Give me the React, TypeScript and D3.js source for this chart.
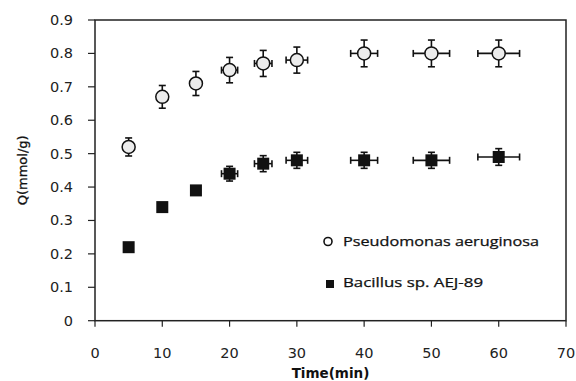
import React from "react";
import * as d3 from "d3";

const times = [5, 10, 15, 20, 25, 30, 40, 50, 60];
const pseudomonas = [0.52, 0.67, 0.71, 0.75, 0.77, 0.78, 0.8, 0.8, 0.8];
const pseudomonasYErr = [0.027, 0.034, 0.036, 0.038, 0.039, 0.039, 0.04, 0.04, 0.04];
const bacillus = [0.22, 0.34, 0.39, 0.44, 0.47, 0.48, 0.48, 0.48, 0.49];
const bacillusYErr = [0, 0.01, 0.012, 0.022, 0.024, 0.024, 0.024, 0.024, 0.025];
const timeErr = [0, 0, 0, 1.2, 1.3, 1.6, 2, 2.7, 3.1];
const xTicks = [0, 10, 20, 30, 40, 50, 60, 70];
const yTicks = [0, 0.1, 0.2, 0.3, 0.4, 0.5, 0.6, 0.7, 0.8, 0.9];
const seriesNames = ["Pseudomonas aeruginosa", "Bacillus sp. AEJ-89"];

const W = 576;
const H = 381;
const L = 95, R = 566, T = 20, B = 320.7;

export default function App() {
  const x = d3.scaleLinear().domain([0, 70]).range([L, R]);
  const y = d3.scaleLinear().domain([0, 0.9]).range([B, T]);
  const cap = 3.5;
  const ink = "#111";

  const errBars = (vals: number[], yerr: number[]) =>
    times.map((t, i) => {
      const cx = x(t), cy = y(vals[i]);
      const parts: JSX.Element[] = [];
      if (yerr[i] > 0) {
        const y1 = y(vals[i] + yerr[i]), y2 = y(vals[i] - yerr[i]);
        parts.push(<line key="v" x1={cx} x2={cx} y1={y1} y2={y2} />);
        parts.push(<line key="vt" x1={cx - cap} x2={cx + cap} y1={y1} y2={y1} />);
        parts.push(<line key="vb" x1={cx - cap} x2={cx + cap} y1={y2} y2={y2} />);
      }
      if (timeErr[i] > 0) {
        const x1 = x(t - timeErr[i]), x2 = x(t + timeErr[i]);
        parts.push(<line key="h" x1={x1} x2={x2} y1={cy} y2={cy} />);
        parts.push(<line key="hl" x1={x1} x2={x1} y1={cy - cap} y2={cy + cap} />);
        parts.push(<line key="hr" x1={x2} x2={x2} y1={cy - cap} y2={cy + cap} />);
      }
      return <g key={i}>{parts}</g>;
    });

  return (
    <svg
      width={W}
      height={H}
      style={{ position: "absolute", left: 0, top: 0, background: "#fff" }}
      fontFamily="'DejaVu Sans', sans-serif"
    >
      <rect x={0} y={0} width={W} height={H} fill="#fff" />
      {/* plot frame */}
      <rect x={L} y={T} width={R - L} height={B - T} fill="none" stroke="#222" strokeWidth={1.5} />
      {/* y ticks */}
      {yTicks.map((v) => (
        <g key={"y" + v}>
          <line x1={L - 7} x2={L} y1={y(v)} y2={y(v)} stroke="#222" strokeWidth={1.2} />
          <text x={73} y={y(v) + 5} textAnchor="end" fontSize={14.5} fill="#222">
            {v === 0 ? "0" : d3.format(".1f")(v)}
          </text>
        </g>
      ))}
      {/* x ticks */}
      {xTicks.map((v) => (
        <g key={"x" + v}>
          <line x1={x(v)} x2={x(v)} y1={B} y2={B + 6} stroke="#222" strokeWidth={1.2} />
          <text x={x(v)} y={358} textAnchor="middle" fontSize={14.5} fill="#222">
            {v}
          </text>
        </g>
      ))}
      <text x={(L + R) / 2} y={378} textAnchor="middle" fontSize={13.5} fontWeight="bold" fill="#111">
        Time(min)
      </text>
      <text
        transform={`translate(27,${(T + B) / 2}) rotate(-90)`}
        textAnchor="middle"
        fontSize={13}
        fill="#111"
        stroke="#111"
        strokeWidth={0.3}
      >
        Q(mmol/g)
      </text>
      {/* error bars */}
      <g stroke={ink} strokeWidth={1.6}>
        {errBars(pseudomonas, pseudomonasYErr)}
        {errBars(bacillus, bacillusYErr)}
      </g>
      {/* markers */}
      {times.map((t, i) => (
        <circle key={"p" + i} cx={x(t)} cy={y(pseudomonas[i])} r={6.5} fill="#ececec" stroke={ink} strokeWidth={1.5} />
      ))}
      {times.map((t, i) => (
        <rect key={"b" + i} x={x(t) - 6} y={y(bacillus[i]) - 6} width={12} height={12} fill={ink} />
      ))}
      {/* legend */}
      <circle cx={328} cy={241.5} r={4} fill="#fff" stroke={ink} strokeWidth={1.6} />
      <text x={343} y={246} fontSize={12} fill="#111" stroke="#111" strokeWidth={0.25} fontFamily="'Open Sans', sans-serif" textLength={196} lengthAdjust="spacingAndGlyphs">
        {seriesNames[0]}
      </text>
      <rect x={326} y={280} width={8} height={8} fill={ink} />
      <text x={343} y={287} fontSize={12} fill="#111" stroke="#111" strokeWidth={0.25} fontFamily="'Open Sans', sans-serif" textLength={140} lengthAdjust="spacingAndGlyphs">
        {seriesNames[1]}
      </text>
    </svg>
  );
}
